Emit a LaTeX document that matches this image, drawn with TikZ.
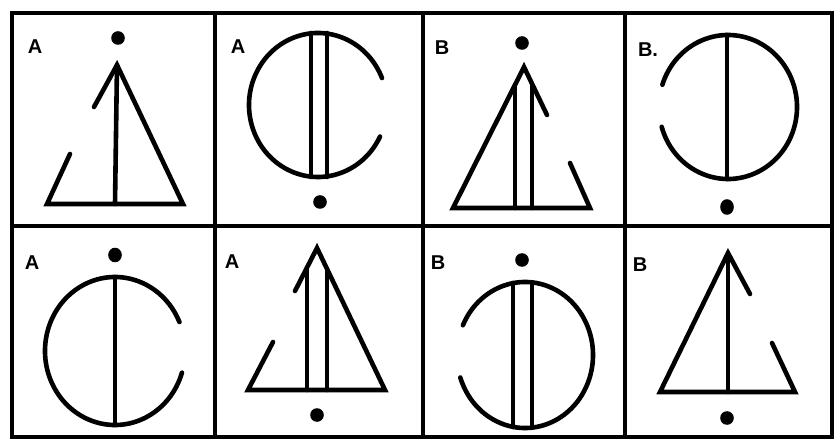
\documentclass[tikz,border=0pt]{standalone}
\usepackage{fontspec}
\setsansfont{Liberation Sans}
\begin{document}
\begin{tikzpicture}[x=1pt,y=-1pt,
  frame/.style={line width=3.2pt,line cap=rect},
  fig/.style={line width=4.6pt,line cap=round,line join=miter},
  spot/.style={fill=black},
  lab/.style={font=\sffamily\bfseries\fontsize{20}{20}\selectfont,inner sep=0pt}]
\useasboundingbox (0,0) rectangle (837,443);
% frame
\draw[frame] (12,13) rectangle (832,437);
\draw[frame] (215,13) -- (215,437);
\draw[frame] (423,13) -- (423,437);
\draw[frame] (625,13) -- (625,437);
\draw[frame] (12,226) -- (832,226);

% cell 1
\node[lab] (l1) at (35,47) {A};
\fill[spot] (118,38) circle[radius=6.8];
\draw[fig] (117,65) -- (115,204);
\draw[fig] (94,107) -- (117,65) -- (183,204) -- (47,204) -- (70,154);

% cell 2
\node[lab] (l2) at (238,47) {A};
\draw[fig,shift={(318,105)}] (26:69 and 72) arc[start angle=26,end angle=338,x radius=69,y radius=72];
\draw[fig] (311,33) -- (311,177);
\draw[fig] (327,33) -- (327,177);
\fill[spot] (320,202) circle[radius=6.8];

% cell 3
\node[lab] (l3) at (442,48) {B};
\fill[spot] (522,43) circle[radius=6.8];
\draw[fig] (547,115) -- (524,67) -- (453,208) -- (590,208) -- (570,163);
\draw[fig] (515,85) -- (515,208);
\draw[fig] (532,84) -- (532,208);

% cell 4
\node[lab] (l4) at (648,50) {B.};
\draw[fig,shift={(728,107)}] (-162:69 and 72) arc[start angle=-162,end angle=164,x radius=69,y radius=72];
\draw[fig] (727,35) -- (727,179);
\fill[spot] (727,207) ellipse[x radius=6.8,y radius=7.8];

% cell 5
\node[lab] (l5) at (32,263) {A};
\fill[spot] (115,255) ellipse[x radius=6.8,y radius=7.3];
\draw[fig,shift={(115,351)}] (17:70 and 74) arc[start angle=17,end angle=337,x radius=70,y radius=74];
\draw[fig] (115,277) -- (115,425);

% cell 6
\node[lab] (l6) at (232,262) {A};
\draw[fig] (295,291) -- (317,248) -- (385,390) -- (248,390) -- (273,342);
\draw[fig] (307,269) -- (307,390);
\draw[fig] (327,269) -- (327,390);
\fill[spot] (317,415) circle[radius=6.8];

% cell 7
\node[lab] (l7) at (438,263) {B};
\fill[spot] (522,260) circle[radius=6.8];
\draw[fig,shift={(525,355)}] (-156:68 and 73) arc[start angle=-156,end angle=162,x radius=68,y radius=73];
\draw[fig] (513,283) -- (513,427);
\draw[fig] (532,283) -- (532,427);

% cell 8
\node[lab] (l8) at (640,265) {B};
\draw[fig] (750,294) -- (728,253) -- (660,392) -- (795,392) -- (772,343);
\draw[fig] (728,253) -- (728,392);
\fill[spot] (727,418) circle[radius=6.8];
\end{tikzpicture}
\end{document}
